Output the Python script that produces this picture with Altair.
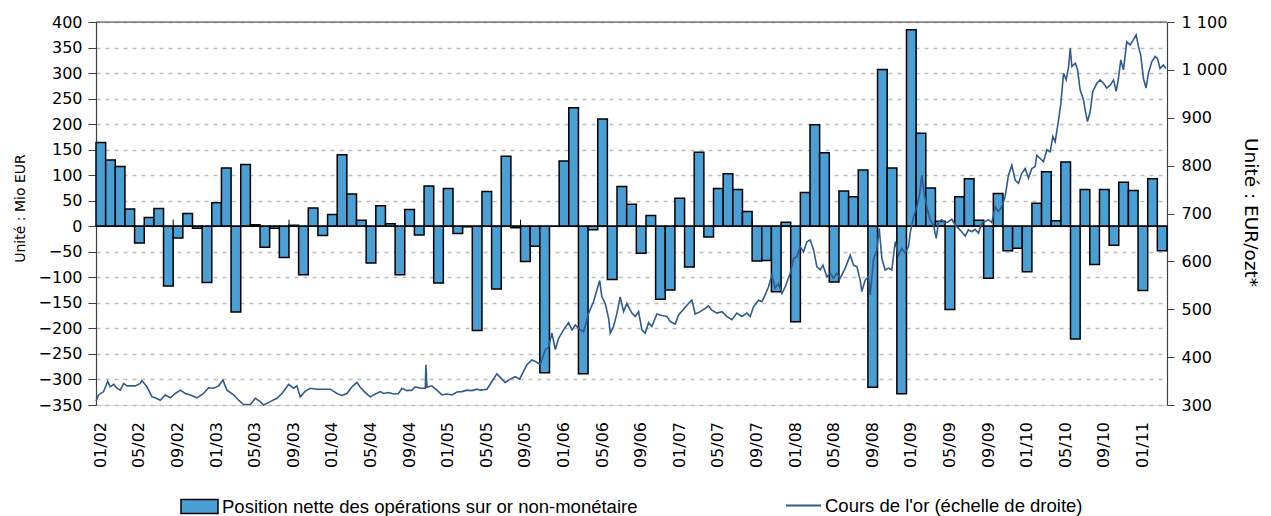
import altair as alt
import pandas as pd

# Position nette mensuelle (Mio EUR), janvier 2002 -> mars 2011
position_nette = [164, 130, 117, 34, -33, 17, 35, -117, -23, 25, -4, -110,
                  46, 114, -168, 121, 3, -41, -4, -61, 2, -95, 36, -18,
                  23, 140, 63, 12, -72, 40, 5, -95, 33, -17, 79, -111,
                  74, -14, -1, -204, 68, -123, 137, -3, -69, -39, -287, 0,
                  128, 232, -289, -7, 210, -104, 78, 43, -53, 21, -143, -125,
                  55, -80, 145, -21, 74, 103, 72, 29, -68, -67, -128, 8,
                  -187, 66, 199, 144, -109, 69, 58, 110, -315, 307, 114, -328,
                  385, 182, 75, 10, -163, 58, 93, 12, -102, 64, -48, -43,
                  -89, 45, 107, 11, 126, -221, 72, -75, 72, -37, 86, 70,
                  -126, 93, -48]

# Cours de l'or (EUR/ozt) : temps en mois depuis janvier 2002
or_mois = [0.0, 0.27, 0.79, 1.21, 1.48, 1.83, 2.17, 2.52, 2.86, 3.21, 3.55, 4.07, 4.59, 4.76,
           5.28, 5.80, 6.14, 6.66, 7.18, 7.70, 8.22, 8.74, 9.25, 9.77, 10.46, 11.15, 11.67,
           12.19, 12.71, 13.16, 13.57, 14.26, 14.78, 15.30, 15.99, 16.51, 17.03, 17.37, 18.06,
           18.75, 19.27, 19.96, 20.48, 20.82, 21.17, 21.69, 22.21, 22.90, 23.59, 24.28, 24.97,
           25.49, 26.01, 26.53, 27.04,
           27.39, 27.91, 28.43, 28.95, 29.46, 29.81, 30.33, 30.84, 31.36, 31.71, 32.22, 32.74,
           33.09, 33.61, 34.13, 34.19, 34.30, 34.81, 35.33, 35.85, 36.37, 36.89, 37.41, 37.93,
           38.44, 38.96, 39.48, 39.83, 40.52, 41.03, 41.55, 42.07, 42.41, 42.93, 43.45, 43.90,
           44.31, 44.66, 45.18, 45.53, 46.04, 46.56, 46.91, 47.25, 47.60, 47.94, 48.46, 48.98,
           49.33, 49.67, 50.19, 50.54, 51.06, 51.57, 52.20, 52.43, 52.78, 53.13, 53.30, 53.64,
           53.99, 54.33, 54.68, 55.02, 55.54, 55.89, 56.23,
           56.58, 56.92, 57.27, 57.61, 58.13, 58.65, 59.17, 59.51, 60.03, 60.38, 60.89, 61.41,
           61.76, 62.10, 62.62, 63.14, 63.48, 63.83, 64.35, 64.87, 65.38, 65.90, 66.42, 66.94,
           67.46, 67.80, 68.15, 68.67, 69.01, 69.36, 69.70, 70.05, 70.39, 70.74, 71.09, 71.43,
           71.95, 72.30, 72.64, 72.99, 73.33, 73.68, 74.02, 74.37, 74.71, 75.06, 75.34, 75.75,
           76.09, 76.44, 76.78, 77.13, 77.65, 78.17, 78.51, 78.86, 79.20, 79.37, 79.72, 80.06,
           80.24, 80.58, 80.93, 81.17, 81.45, 81.79, 82.14, 82.48, 82.83, 83.17, 83.52, 83.87,
           84.21,
           84.38, 84.73, 85.07, 85.35, 85.59, 85.83, 86.11, 86.45, 86.80, 87.08, 87.32, 87.66,
           88.01, 88.35, 88.70, 89.04, 89.39, 89.73, 90.08, 90.42, 90.77, 91.11, 91.46, 91.81,
           92.15, 92.50, 92.84, 93.19, 93.53, 93.88, 94.22, 94.57, 94.92, 95.26, 95.61, 95.95,
           96.30, 96.64, 96.99, 97.33, 97.51, 97.86, 98.20, 98.55, 98.89, 99.17, 99.41, 99.76,
           100.00, 100.28, 100.55, 100.80, 100.97, 101.14, 101.49, 101.73, 102.00, 102.35,
           102.52, 102.76, 103.04, 103.31, 103.73, 104.07, 104.42, 104.76, 105.11, 105.46,
           105.73, 105.97, 106.21, 106.49, 106.83, 107.18, 107.52, 107.80, 108.04, 108.28,
           108.56, 108.83, 109.07, 109.42, 109.77, 110.01, 110.28, 110.63, 110.87]
or_cours = [308, 321, 328, 349, 338, 343, 335, 331, 345, 340, 340, 340, 345, 351,
            338, 317, 315, 310, 321, 315, 324, 331, 324, 321, 315, 324, 336,
            335, 340, 352, 331, 321, 310, 301, 301, 314, 307, 300, 307,
            314, 324, 343, 335, 340, 317, 329, 335, 333, 333, 333, 324,
            320, 324, 338, 347,
            337, 326, 317, 323, 328, 324, 326, 323, 324, 335, 330, 331,
            338, 335, 335, 384, 337, 340, 331, 321, 323, 321, 327, 328,
            331, 330, 333, 331, 333, 349, 365, 354, 347, 354, 359, 354,
            370, 384, 394, 391, 384, 415, 421, 450, 416, 439, 457, 472,
            457, 467, 457, 453, 492, 516, 560, 526, 512, 481, 450, 464,
            492, 526, 495, 512, 492, 485, 495,
            457, 450, 472, 464, 490, 487, 485, 474, 469, 488, 500, 512,
            519, 490, 495, 502, 507, 498, 492, 495, 485, 478, 492, 485,
            492, 485, 505, 519, 516, 530, 547, 572, 544, 554, 533, 547,
            575, 606, 610, 631, 620, 641, 645, 624, 589, 582, 592, 568,
            575, 565, 575, 565, 586, 613, 592, 589, 561, 537, 561, 568,
            530, 603, 624, 669, 606, 582, 586, 582, 641, 613, 627, 617,
            631,
            659, 693, 714, 739, 780, 742, 714, 687, 676, 648, 683, 687,
            680, 683, 688, 676, 669, 662, 653, 666, 662, 667, 659, 680,
            683, 687, 681, 714, 704, 714, 735, 780, 801, 770, 763, 784,
            794, 774, 794, 798, 822, 815, 808, 833, 829, 861, 850, 895,
            930, 993, 979, 1007, 1045, 1007, 1014, 1000, 958, 937,
            916, 892, 913, 955, 972, 979, 972, 962, 968, 979,
            955, 982, 1021, 1000, 1059, 1052, 1063, 1073, 1049, 1031,
            982, 962, 993, 1017, 1028, 1024, 1003, 1010, 1003]

etiquettes_x = ["01/02", "05/02", "09/02", "01/03", "05/03", "09/03", "01/04",
                "05/04", "09/04", "01/05", "05/05", "09/05", "01/06", "05/06",
                "09/06", "01/07", "05/07", "09/07", "01/08", "05/08", "09/08",
                "01/09", "05/09", "09/09", "01/10", "05/10", "09/10", "01/11"]
graduations_mois = [8, 20, 32, 44, 56, 68, 80, 92, 104]

serie_barres = "Position nette des opérations sur or non-monétaire"
serie_or = "Cours de l'or (échelle de droite)"

FONT = "DejaVu Sans"
LEG_FONT = "Liberation Sans"
n_mois = len(position_nette)
PLOT_H = 383

df_barres = pd.DataFrame({"mois": list(range(n_mois)), "position": position_nette})
df_or = pd.DataFrame({"t": or_mois, "cours": or_cours})
df_grad = pd.DataFrame({"t": graduations_mois})
df_etiq = pd.DataFrame({"mois": [0.5 + 4 * i for i in range(len(etiquettes_x))],
                        "etiquette": etiquettes_x})

x_scale = alt.Scale(domain=[0, n_mois], nice=False, zero=False)
y_left = alt.Scale(domain=[-350, 400], nice=False, zero=False)
y_right = alt.Scale(domain=[300, 1100], nice=False, zero=False)

barres = alt.Chart(df_barres).transform_calculate(
    fin="datum.mois + 1", zero="0", serie=f"'{serie_barres}'"
).mark_rect(stroke="black", strokeWidth=1.5).encode(
    x=alt.X("mois:Q", scale=x_scale, axis=None),
    x2="fin:Q",
    y=alt.Y("position:Q", scale=y_left,
            axis=alt.Axis(orient="left", values=list(range(-350, 401, 50)), grid=True,
                          gridColor="#bdbdbd", gridDash=[4, 5], gridWidth=1.5,
                          domainColor="#404040", domainWidth=1.2,
                          tickColor="#404040", tickSize=8, labelPadding=6, labelFont=FONT,
                          labelFontSize=16, labelColor="black", labelOverlap=False,
                          title="Unité : Mio EUR", titleFont=FONT, titleFontSize=14,
                          titleFontWeight="normal", titleColor="black", titleAngle=270,
                          titleAlign="center", titleBaseline="middle", titleX=-76, titleY=186)),
    y2="zero:Q",
    fill=alt.Fill("serie:N", scale=alt.Scale(domain=[serie_barres], range=["#4a9fd5"]),
                  legend=alt.Legend(orient="none", legendX=84, legendY=465, title=None,
                                    symbolType="M-1,-0.38H1V0.38H-1Z", symbolSize=1369,
                                    symbolStrokeColor="black", symbolStrokeWidth=1.5,
                                    labelFont=LEG_FONT, labelFontSize=18.5, labelColor="black",
                                    labelOffset=3, labelLimit=600)),
)

etiquettes = alt.Chart(df_etiq).mark_text(
    angle=270, align="right", baseline="middle", font=FONT, fontSize=16, color="black"
).encode(
    x=alt.X("mois:Q", scale=x_scale, axis=None),
    y=alt.value(PLOT_H + 17),
    text="etiquette:N",
)

graduations = alt.Chart(df_grad).transform_calculate(y0="0", y1="13").mark_rule(
    color="black", strokeWidth=1
).encode(x=alt.X("t:Q", scale=x_scale, axis=None),
         y=alt.Y("y0:Q", scale=y_left, axis=None), y2="y1:Q")

ligne_zero = alt.Chart(pd.DataFrame({"v": [0]})).mark_rule(color="black", strokeWidth=1.5).encode(
    y=alt.Y("v:Q", scale=y_left, axis=None))
ligne_haut = alt.Chart(pd.DataFrame({"v": [400]})).mark_rule(color="#404040", strokeWidth=1.2).encode(
    y=alt.Y("v:Q", scale=y_left, axis=None))

ligne_or = alt.Chart(df_or).transform_calculate(serie=f'"{serie_or}"').mark_line(
    strokeWidth=1.6).encode(
    x=alt.X("t:Q", scale=x_scale, axis=None),
    y=alt.Y("cours:Q", scale=y_right,
            axis=alt.Axis(orient="right", values=list(range(300, 1101, 100)), grid=False,
                          domainColor="#404040", domainWidth=1.2, tickColor="#404040", tickSize=7,
                          labelPadding=7, labelFont=FONT, labelFontSize=16, labelColor="black",
                          labelOverlap=False,
                          labelExpr="replace(format(datum.value, ','), ',', ' ')",
                          title="Unité : EUR/ozt*", titleFont=FONT, titleFontSize=18.5,
                          titleFontWeight="normal", titleColor="black", titleAngle=90,
                          titleAlign="center", titleBaseline="middle", titleX=83, titleY=190)),
    stroke=alt.Stroke("serie:N", scale=alt.Scale(domain=[serie_or], range=["#2f5b8f"]),
                      legend=alt.Legend(orient="none", legendX=689, legendY=465, title=None,
                                        symbolType="stroke", symbolSize=1225, symbolStrokeWidth=2,
                                        labelFont=LEG_FONT, labelFontSize=18.5, labelColor="black",
                                        labelOffset=3, labelLimit=600)),
)

chart = alt.layer(barres, graduations, ligne_zero, ligne_haut, etiquettes, ligne_or).resolve_scale(
    y="independent"
).properties(
    width=1071, height=PLOT_H,
    autosize=alt.AutoSizeParams(type="none"),
    padding={"left": 88, "top": 14, "right": 95, "bottom": 112},
).configure_view(stroke=None).configure(background="white")

chart.save("out.html", embed_options={"renderer": "svg", "actions": False})
